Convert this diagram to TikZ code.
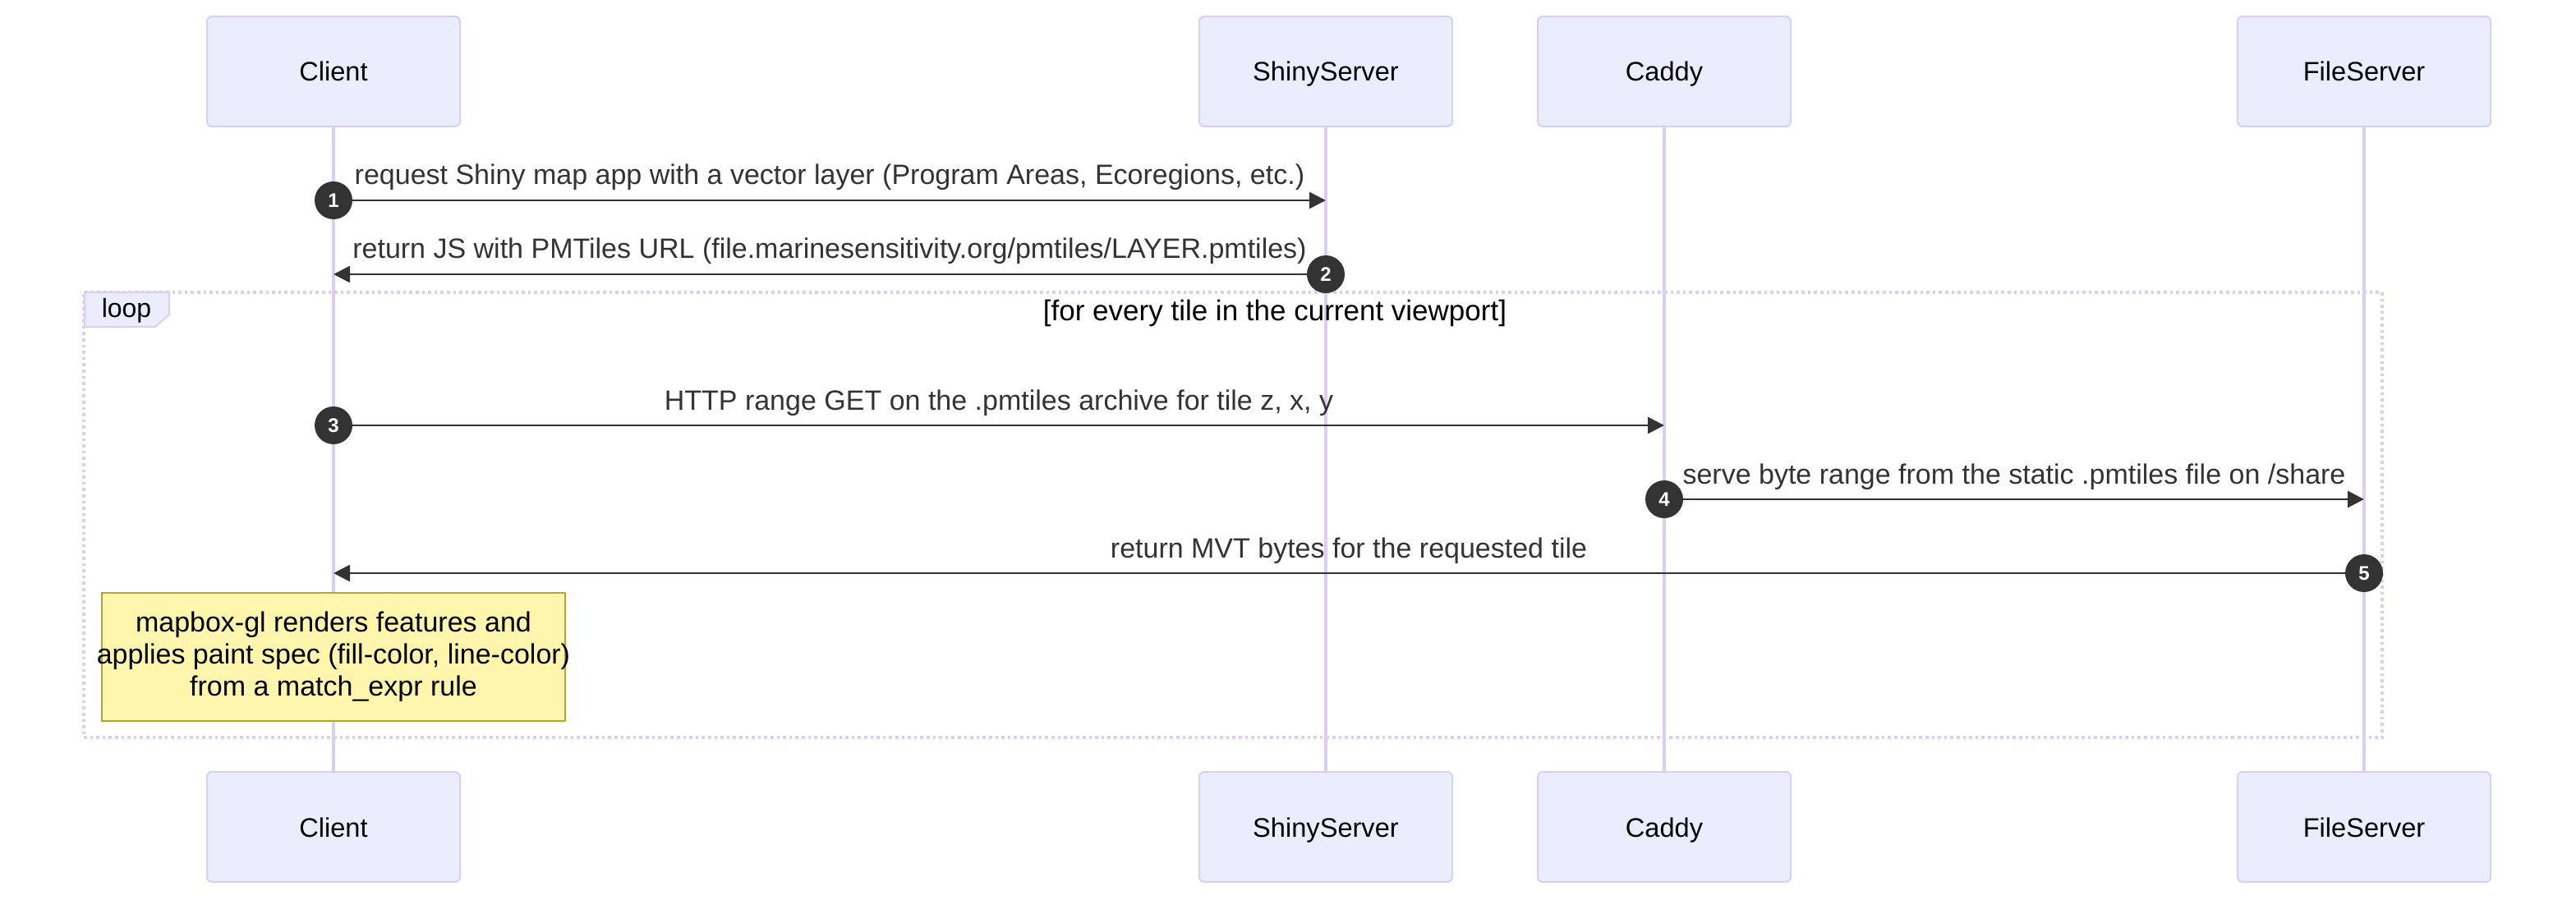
\documentclass[tikz,border=0pt]{standalone}
\usepackage{fontspec}
\setmainfont{Liberation Sans}
\usetikzlibrary{arrows.meta}
\definecolor{actfill}{HTML}{ECECFF}
\definecolor{actline}{HTML}{DACEF3}
\definecolor{msgcol}{HTML}{333333}
\definecolor{notefill}{HTML}{FFF5AD}
\definecolor{noteline}{HTML}{AAAA33}
\begin{document}
\begin{tikzpicture}[x=1pt,y=-1pt,
  actor/.style={draw=actline, fill=actfill, line width=1pt, rounded corners=3pt,
    minimum width=154pt, minimum height=67pt, inner sep=0pt,
    text height=12pt, text depth=0pt,
    font=\fontsize{16.3}{19}\selectfont},
  life/.style={draw=actline, line width=1.6pt},
  msgline/.style={draw=msgcol, line width=1.4pt, -{Triangle[length=10pt,width=10pt]}},
  seqnum/.style={circle, fill=msgcol, text=white, minimum size=23pt, inner sep=0pt,
    font=\fontsize{12}{14}\selectfont\bfseries},
  msglabel/.style={font=\fontsize{17}{20}\selectfont, text=msgcol, inner sep=0pt,
    anchor=base, yshift=9.5pt},
  loopline/.style={draw=actline, line width=1.8pt, dash pattern=on 1.8pt off 2pt},
  notebox/.style={draw=noteline, fill=notefill, line width=1pt,
    minimum width=282pt, minimum height=78pt, inner sep=0pt},
  plain/.style={inner sep=0pt, font=\fontsize{16}{19}\selectfont}
]
\useasboundingbox (0,0) rectangle (1568,548);

% actors
\node[actor] (ct) at (203,43.5) {Client};
\node[actor] (st) at (807,43.5) {ShinyServer};
\node[actor] (kt) at (1013,43.5) {Caddy};
\node[actor] (ft) at (1439,43.5) {FileServer};
\node[actor] (cb) at (203,503.5) {Client};
\node[actor] (sb) at (807,503.5) {ShinyServer};
\node[actor] (kb) at (1013,503.5) {Caddy};
\node[actor] (fb) at (1439,503.5) {FileServer};

% lifelines
\draw[life] (ct.south) -- (cb.north);
\draw[life] (st.south) -- (sb.north);
\draw[life] (kt.south) -- (kb.north);
\draw[life] (ft.south) -- (fb.north);

% loop frame
\node[loopline, minimum width=1399pt, minimum height=271pt, inner sep=0pt] (loopbox) at (750.5,313.5) {};
\draw[draw=actline, fill=actfill, line width=1pt]
  (51.5,178) -- (103,178) -- (103,191.5) -- (94.5,199) -- (51.5,199) -- cycle;
\node[plain] (looplbl) at (77,189) {loop};
\node[plain, font=\fontsize{17.5}{20}\selectfont] (cond) at (776,190.5) {[for every tile in the current viewport]};

% messages
\coordinate (a1) at (ct.south |- 0,122);
\coordinate (b1) at (st.south |- 0,122);
\draw[msgline] (a1) -- (b1) node[msglabel, midway] {request Shiny map app with a vector layer (Program Areas, Ecoregions, etc.)};
\node[seqnum] (n1) at (a1) {1};

\coordinate (a2) at (st.south |- 0,167);
\coordinate (b2) at (ct.south |- 0,167);
\draw[msgline] (a2) -- (b2) node[msglabel, midway] {return JS with PMTiles URL (file.marinesensitivity.org/pmtiles/LAYER.pmtiles)};
\node[seqnum] (n2) at (a2) {2};

\coordinate (a3) at (ct.south |- 0,259);
\coordinate (b3) at (kt.south |- 0,259);
\draw[msgline] (a3) -- (b3) node[msglabel, midway] {HTTP range GET on the .pmtiles archive for tile z, x, y};
\node[seqnum] (n3) at (a3) {3};

\coordinate (a4) at (kt.south |- 0,304);
\coordinate (b4) at (ft.south |- 0,304);
\draw[msgline] (a4) -- (b4) node[msglabel, midway] {serve byte range from the static .pmtiles file on /share};
\node[seqnum] (n4) at (a4) {4};

\coordinate (a5) at (ft.south |- 0,349);
\coordinate (b5) at (ct.south |- 0,349);
\draw[msgline] (a5) -- (b5) node[msglabel, midway] {return MVT bytes for the requested tile};
\node[seqnum] (n5) at (a5) {5};

% note
\node[notebox] (note) at (203,400) {};
\node[plain, align=center, font=\fontsize{17}{19.5}\selectfont] (notetxt) at (note.center)
  {mapbox-gl renders features and\\applies paint spec (fill-color, line-color)\\from a match\_expr rule};
\end{tikzpicture}
\end{document}
